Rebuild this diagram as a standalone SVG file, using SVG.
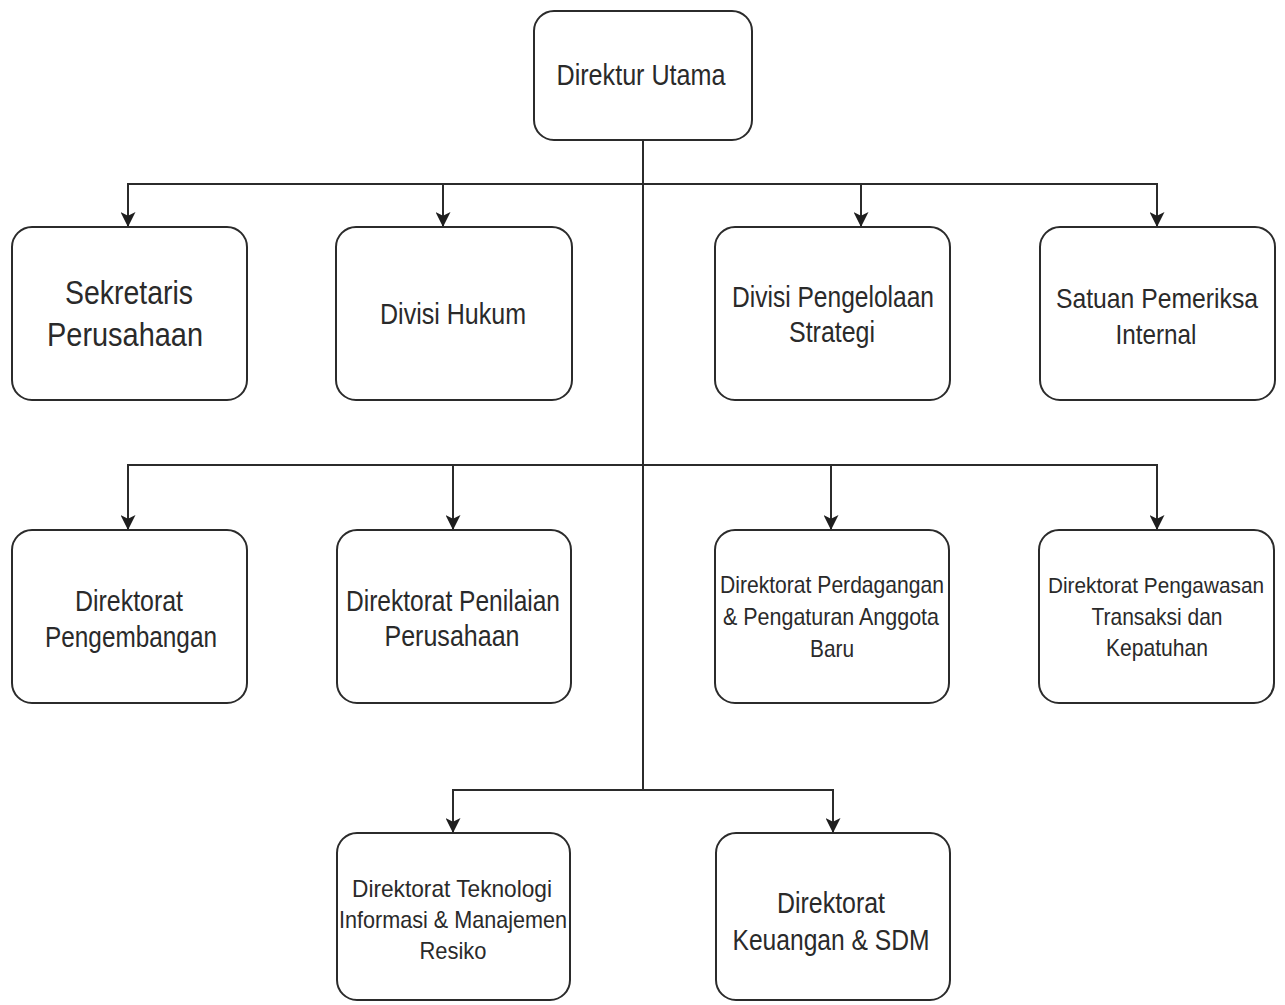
<svg xmlns="http://www.w3.org/2000/svg" width="1285" height="1005" viewBox="0 0 1285 1005">
<style>
.box{fill:#ffffff;stroke:#2b2b2b;stroke-width:2}
.t{font-family:"Liberation Sans",Arial,sans-serif;fill:#2a2a2a;text-anchor:middle}
.b{font-size:30px}
.m{font-size:28px}
.l{font-size:33px}
.s{font-size:24px}
.xs{font-size:22px}
.c{fill:none;stroke:#2b2b2b;stroke-width:2}
</style>
<defs>
<marker id="arr" viewBox="0 0 14 16" refX="16" refY="8" markerWidth="17" markerHeight="15" markerUnits="userSpaceOnUse" orient="auto">
<path d="M0,0 L16,8 L0,16 L4,8 z" fill="#1e1e1e"/>
</marker>
</defs>
<rect width="1285" height="1005" fill="#ffffff"/>
<g id="connectors">
<path class="c" d="M643,140 V790"/>
<path class="c" d="M643,184 H128 V227" marker-end="url(#arr)"/>
<path class="c" d="M643,184 H443 V227" marker-end="url(#arr)"/>
<path class="c" d="M643,184 H861 V227" marker-end="url(#arr)"/>
<path class="c" d="M643,184 H1157 V227" marker-end="url(#arr)"/>
<path class="c" d="M643,465 H128 V530" marker-end="url(#arr)"/>
<path class="c" d="M643,465 H453 V530" marker-end="url(#arr)"/>
<path class="c" d="M643,465 H831 V530" marker-end="url(#arr)"/>
<path class="c" d="M643,465 H1157 V530" marker-end="url(#arr)"/>
<path class="c" d="M643,790 H453 V833" marker-end="url(#arr)"/>
<path class="c" d="M643,790 H833 V833" marker-end="url(#arr)"/>
</g>
<g id="direktur-utama">
<rect class="box" x="534" y="11" width="218" height="129" rx="20"/>
<text class="t b" x="641" y="85" textLength="169" lengthAdjust="spacingAndGlyphs">Direktur Utama</text>
</g>
<g id="sekretaris-perusahaan">
<rect class="box" x="12" y="227" width="235" height="173" rx="20"/>
<text class="t l" x="129" y="304" textLength="128" lengthAdjust="spacingAndGlyphs">Sekretaris</text>
<text class="t l" x="125" y="346" textLength="156" lengthAdjust="spacingAndGlyphs">Perusahaan</text>
</g>
<g id="divisi-hukum">
<rect class="box" x="336" y="227" width="236" height="173" rx="20"/>
<text class="t b" x="453" y="324" textLength="146" lengthAdjust="spacingAndGlyphs">Divisi Hukum</text>
</g>
<g id="divisi-pengelolaan-strategi">
<rect class="box" x="715" y="227" width="235" height="173" rx="20"/>
<text class="t b" x="833" y="307" textLength="202" lengthAdjust="spacingAndGlyphs">Divisi Pengelolaan</text>
<text class="t b" x="832" y="342" textLength="86" lengthAdjust="spacingAndGlyphs">Strategi</text>
</g>
<g id="satuan-pemeriksa-internal">
<rect class="box" x="1040" y="227" width="235" height="173" rx="20"/>
<text class="t m" x="1157" y="308" textLength="202" lengthAdjust="spacingAndGlyphs">Satuan Pemeriksa</text>
<text class="t m" x="1156" y="344" textLength="81" lengthAdjust="spacingAndGlyphs">Internal</text>
</g>
<g id="direktorat-pengembangan">
<rect class="box" x="12" y="530" width="235" height="173" rx="20"/>
<text class="t b" x="129" y="611" textLength="108" lengthAdjust="spacingAndGlyphs">Direktorat</text>
<text class="t b" x="131" y="647" textLength="172" lengthAdjust="spacingAndGlyphs">Pengembangan</text>
</g>
<g id="direktorat-penilaian-perusahaan">
<rect class="box" x="337" y="530" width="234" height="173" rx="20"/>
<text class="t b" x="453" y="611" textLength="214" lengthAdjust="spacingAndGlyphs">Direktorat Penilaian</text>
<text class="t b" x="452" y="646" textLength="135" lengthAdjust="spacingAndGlyphs">Perusahaan</text>
</g>
<g id="direktorat-perdagangan">
<rect class="box" x="715" y="530" width="234" height="173" rx="20"/>
<text class="t s" x="832" y="593" textLength="224" lengthAdjust="spacingAndGlyphs">Direktorat Perdagangan</text>
<text class="t s" x="831" y="625" textLength="216" lengthAdjust="spacingAndGlyphs">&amp; Pengaturan Anggota</text>
<text class="t s" x="832" y="657" textLength="44" lengthAdjust="spacingAndGlyphs">Baru</text>
</g>
<g id="direktorat-pengawasan">
<rect class="box" x="1039" y="530" width="235" height="173" rx="20"/>
<text class="t xs" x="1156" y="593" textLength="216" lengthAdjust="spacingAndGlyphs">Direktorat Pengawasan</text>
<text class="t s" x="1157" y="625" textLength="131" lengthAdjust="spacingAndGlyphs">Transaksi dan</text>
<text class="t s" x="1157" y="656" textLength="102" lengthAdjust="spacingAndGlyphs">Kepatuhan</text>
</g>
<g id="direktorat-teknologi">
<rect class="box" x="337" y="833" width="233" height="167" rx="20"/>
<text class="t s" x="452" y="897" textLength="200" lengthAdjust="spacingAndGlyphs">Direktorat Teknologi</text>
<text class="t s" x="453" y="928" textLength="228" lengthAdjust="spacingAndGlyphs">Informasi &amp; Manajemen</text>
<text class="t s" x="453" y="959" textLength="67" lengthAdjust="spacingAndGlyphs">Resiko</text>
</g>
<g id="direktorat-keuangan-sdm">
<rect class="box" x="716" y="833" width="234" height="167" rx="20"/>
<text class="t b" x="831" y="913" textLength="108" lengthAdjust="spacingAndGlyphs">Direktorat</text>
<text class="t b" x="831" y="950" textLength="197" lengthAdjust="spacingAndGlyphs">Keuangan &amp; SDM</text>
</g>
</svg>
